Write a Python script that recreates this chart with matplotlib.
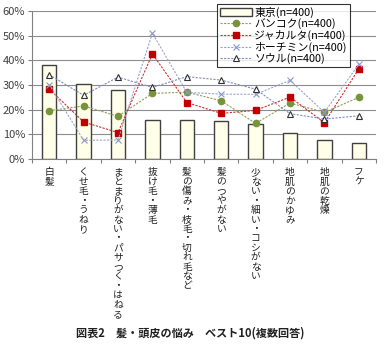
import matplotlib
matplotlib.use("Agg")
import matplotlib.pyplot as plt
import numpy as np

plt.rcParams['font.family'] = ['Noto Sans CJK JP', 'DejaVu Sans']

categories = ["白髪", "くせ毛・うねり", "まとまりがない・パサつく・はねる", "抜け毛・薄毛",
              "髪の傷み・枝毛・切れ毛など", "髪のつやがない", "少ない・細い・コシがない",
              "地肌のかゆみ", "地肌の乾燥", "フケ"]
tokyo = [38.3, 30.3, 27.8, 15.7, 15.7, 15.5, 14.0, 10.4, 7.7, 6.6]
bangkok = [19.6, 21.5, 17.3, 26.6, 27.1, 23.6, 14.4, 22.7, 18.9, 25.0]
jakarta = [28.4, 15.0, 10.7, 42.6, 22.9, 18.5, 19.7, 25.1, 14.7, 36.5]
hochiminh = [30.2, 7.6, 7.7, 51.0, 27.0, 26.3, 26.2, 31.9, 18.9, 38.4]
seoul = [34.2, 25.8, 33.2, 29.0, 33.4, 32.0, 28.3, 18.4, 16.2, 17.5]
yticks = [0, 10, 20, 30, 40, 50, 60]
title = "図表2　髪・頭皮の悩み　ベスト10(複数回答)"

fig = plt.figure(figsize=(3.84, 3.52), dpi=100)
ax = fig.add_axes([32/384, 1-159/352, (376-32)/384, (159-11)/352])
x = np.arange(len(categories))

ax.set_axisbelow(True)
ax.yaxis.grid(True, color='#8c8c8c', linewidth=0.8)
b = ax.bar(x, tokyo, width=0.42, color='#FFFFEA', edgecolor='#404040', linewidth=1.0,
           label='東京(n=400)', zorder=2)
ls = (0, (2, 1.2))
l1, = ax.plot(x, bangkok, linestyle=ls, color='#8FA05A', linewidth=0.8, marker='o',
              markersize=4.5, markerfacecolor='#77933C', markeredgecolor='#77933C',
              label='バンコク(n=400)', zorder=3)
l2, = ax.plot(x, jakarta, linestyle=ls, color='#D03030', linewidth=0.8, marker='s',
              markersize=4, markerfacecolor='#C00000', markeredgecolor='#C00000',
              label='ジャカルタ(n=400)', zorder=3)
l3, = ax.plot(x, hochiminh, linestyle=ls, color='#9AA4D0', linewidth=0.8, marker='x',
              markersize=5, markeredgecolor='#8E98C8', markeredgewidth=0.8,
              label='ホーチミン(n=400)', zorder=3)
l4, = ax.plot(x, seoul, linestyle=ls, color='#7F8FC0', linewidth=0.8, marker='^',
              markersize=5, markerfacecolor='white', markeredgecolor='#303030',
              markeredgewidth=0.8, label='ソウル(n=400)', zorder=3)

ax.set_xlim(-0.5, len(categories) - 0.5)
ax.set_ylim(0, 60)
ax.set_yticks(yticks)
ax.set_yticklabels([f"{v}%" for v in yticks], fontsize=8, color='#404040')
for s in ['top', 'right']:
    ax.spines[s].set_visible(False)
ax.spines['left'].set_color('#808080')
ax.spines['bottom'].set_color('#808080')
ax.tick_params(axis='y', length=3, color='#808080', pad=2)
ax.set_xticks(np.arange(-0.5, len(categories) + 0.5, 1.0))
ax.set_xticklabels([])
ax.tick_params(axis='x', length=3, color='#808080')
for i, c in enumerate(categories):
    ax.text(i, -3.4, "\n".join(c), ha='center', va='top', fontsize=7,
            linespacing=0.93, color='#202020', transform=ax.transData)

leg = fig.legend(handles=[b, l1, l2, l3, l4], loc='upper left',
                 bbox_to_anchor=(217/384, 1-4/352), fontsize=7.8, frameon=True,
                 fancybox=False, edgecolor='black', handlelength=3.0,
                 handletextpad=0.2, borderpad=0.25, labelspacing=0.05,
                 borderaxespad=0)
leg.get_frame().set_linewidth(0.8)

fig.text(190/384, 1-333/352, title, ha='center', va='center', fontsize=8,
         fontweight='bold', color='#202020')

fig.savefig("out.png", dpi=100)
